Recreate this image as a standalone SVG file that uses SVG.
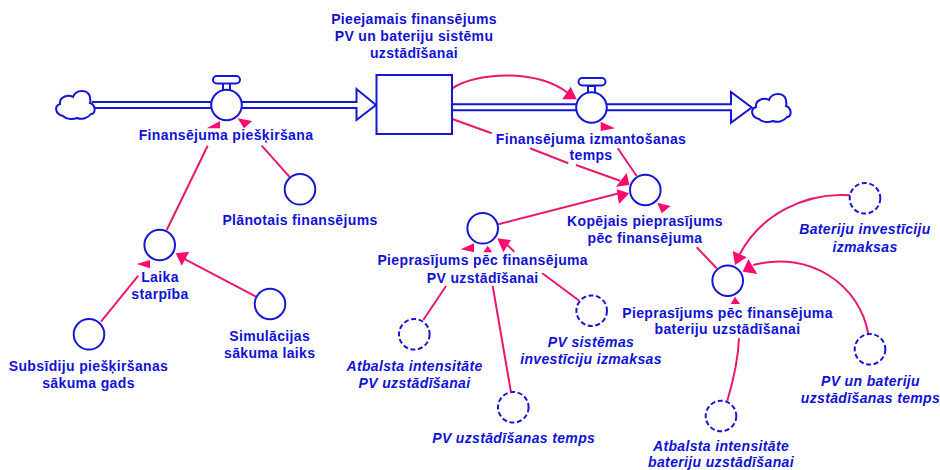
<svg xmlns="http://www.w3.org/2000/svg" width="940" height="470" viewBox="0 0 940 470">
<style>
.bg{fill:#fff}
.s{fill:#fff;stroke:#1616d4;stroke-width:2}
.n{fill:none;stroke:#1616d4;stroke-width:2}
.d{fill:#fff;stroke:#1616d4;stroke-width:2;stroke-dasharray:5 2.6}
.l{fill:none;stroke:#e8186f;stroke-width:2}
.h{fill:#ff0a6e;stroke:none}
text{font-family:"Liberation Sans",Arial,sans-serif;font-size:14px;font-weight:700;fill:#1212d2;text-anchor:middle;letter-spacing:.35px}
.i{font-style:italic}
</style>
<defs>
<path id="cloud" d="M63,116C55,114 54,106 60,104C59,97 68,94 73,97C76,89 88,89 90,97C90,100 91,101 90,103C96,105 96,114 91,114C88,118 82,120 77,118C72,120 66,119 63,116Z"/>
</defs>
<rect class="bg" width="940" height="470"/>
<g id="connectors">
<path class="n" d="M92,102H212M92,108H212M240,102H356.5V89L376,105L356.5,120V108H240"/>
<path class="n" d="M452,104.300H577M452,110.300H577M606,104.300H731V92L751.700,107.500L731,122.700V110.300H606"/>
<path class="l" d="M207.700,145.700L166.700,230"/>
<polygon class="h" points="220,121 206.700,128.300 220,128.300"/>
<path class="l" d="M261.700,145.700L290,177.300"/>
<polygon class="h" points="237.700,118.300 252.300,121 244,128.300"/>
<path class="l" d="M452.300,88.300C475,73 535,68 568,93"/>
<polygon class="h" points="562.300,99.300 576.700,99.300 570.700,86.700"/>
<path class="l" d="M452.300,119L491.700,133.300M530,148.300L568.300,163.300M576,165L620,180.700"/>
<polygon class="h" points="626.700,172.700 629.300,185 616,186.700"/>
<path class="l" d="M617.700,148.300L636.700,176"/>
<polygon class="h" points="600.700,121.700 615,128.300 600.700,131"/>
<path class="l" d="M498.300,224.300L620,193"/>
<polygon class="h" points="616.700,189.300 629.300,193.300 619,204"/>
<path class="l" d="M696.700,247.300L716.700,268.300"/>
<polygon class="h" points="657.300,202.700 670.700,206 661.700,213.300"/>
<path class="l" d="M850,195.300C805,192 760,215 739.300,255"/>
<polygon class="h" points="732.700,251 746.700,257.300 735,265"/>
<path class="l" d="M868.300,334C860,285 810,250 753.300,265"/>
<polygon class="h" points="748.300,259 757.300,274 742.700,271.700"/>
<path class="l" d="M727.300,400.700Q738,365 739,338.300"/>
<polygon class="h" points="735,296.700 740,304 730.700,304"/>
<path class="l" d="M579.300,300.700L542.300,273.300M514.300,251.700L505.700,243.300"/>
<polygon class="h" points="497.300,238.300 511,240 503.300,252.300"/>
<path class="l" d="M423.300,320L446,286"/>
<polygon class="h" points="474,243.300 474,252.300 460.700,249.300"/>
<path class="l" d="M511,392.300L492.700,286"/>
<polygon class="h" points="487.700,245.700 492.300,252.300 483.300,252.300"/>
<path class="l" d="M138.300,275.700L101,321.700"/>
<polygon class="h" points="150,260 150,268.300 136.700,264"/>
<path class="l" d="M256,296.700L183.300,258.300"/>
<polygon class="h" points="175.700,253.300 189.300,251.700 181.700,265.700"/>
</g>
<g id="cloud-source"><use href="#cloud" class="s"/></g>
<g id="cloud-sink"><use href="#cloud" class="s" transform="translate(696,3)"/></g>
<g id="stock-finansejums">
<rect class="s" x="376.500" y="75" width="75.500" height="59"/>
<text x="414" y="24">Pieejamais finansējums</text>
<text x="414" y="41">PV un bateriju sistēmu</text>
<text x="414" y="58">uzstādīšanai</text>
</g>
<g id="flow-pieskirsana">
<rect class="s" x="223" y="83" width="7" height="8"/>
<rect class="s" x="213" y="76" width="27" height="7.500" rx="3.700"/>
<circle class="s" cx="226.500" cy="105" r="15.300"/>
<text x="226" y="140">Finansējuma piešķiršana</text>
</g>
<g id="flow-izmantosana">
<rect class="s" x="588" y="86" width="7" height="8"/>
<rect class="s" x="578.500" y="78" width="27" height="7.500" rx="3.700"/>
<circle class="s" cx="591.500" cy="107.500" r="15.300"/>
<text x="591" y="144.300">Finansējuma izmantošanas</text>
<text x="591" y="160.300">temps</text>
</g>
<g id="planotais">
<circle class="s" cx="300" cy="189.300" r="15.300"/>
<text x="300" y="224.500">Plānotais finansējums</text>
</g>
<g id="laika-starpiba">
<circle class="s" cx="159.700" cy="245" r="15.300"/>
<text x="160" y="281.700">Laika</text>
<text x="160" y="299">starpība</text>
</g>
<g id="subsidiju">
<circle class="s" cx="89" cy="334.300" r="15.300"/>
<text x="88.500" y="371.300">Subsīdiju piešķiršanas</text>
<text x="88.500" y="388.300">sākuma gads</text>
</g>
<g id="simulacijas">
<circle class="s" cx="270" cy="304" r="15.300"/>
<text x="269.700" y="340.700">Simulācijas</text>
<text x="269.700" y="357.700">sākuma laiks</text>
</g>
<g id="kopejais">
<circle class="s" cx="645.300" cy="190" r="15.300"/>
<text x="645" y="226.300">Kopējais pieprasījums</text>
<text x="645" y="243">pēc finansējuma</text>
</g>
<g id="pieprasijums-pv">
<circle class="s" cx="482.700" cy="228.300" r="15.300"/>
<text x="482.700" y="265.300">Pieprasījums pēc finansējuma</text>
<text x="482.700" y="282.700">PV uzstādīšanai</text>
</g>
<g id="pieprasijums-bat">
<circle class="s" cx="727.700" cy="280.700" r="15.300"/>
<text x="727.500" y="317.700">Pieprasījums pēc finansējuma</text>
<text x="727.500" y="334.300">bateriju uzstādīšanai</text>
</g>
<g id="atbalsts-pv">
<circle class="d" cx="414.300" cy="334.300" r="15.300"/>
<text class="i" x="414.500" y="371">Atbalsta intensitāte</text>
<text class="i" x="414.500" y="388">PV uzstādīšanai</text>
</g>
<g id="pv-izmaksas">
<circle class="d" cx="591.700" cy="310.700" r="15.300"/>
<text class="i" x="591" y="347">PV sistēmas</text>
<text class="i" x="591" y="364">investīciju izmaksas</text>
</g>
<g id="pv-temps">
<circle class="d" cx="513.300" cy="407.300" r="15.300"/>
<text class="i" x="513.700" y="442.700">PV uzstādīšanas temps</text>
</g>
<g id="bat-izmaksas">
<circle class="d" cx="865" cy="198.300" r="15.300"/>
<text class="i" x="865" y="234.300">Bateriju investīciju</text>
<text class="i" x="865" y="251.700">izmaksas</text>
</g>
<g id="pv-bat-temps">
<circle class="d" cx="870" cy="349.300" r="15.300"/>
<text class="i" x="870.500" y="386">PV un bateriju</text>
<text class="i" x="870.500" y="402.700">uzstādīšanas temps</text>
</g>
<g id="atbalsts-bat">
<circle class="d" cx="721" cy="416" r="15.300"/>
<text class="i" x="721" y="450.500">Atbalsta intensitāte</text>
<text class="i" x="721" y="466.500">bateriju uzstādīšanai</text>
</g>
</svg>
